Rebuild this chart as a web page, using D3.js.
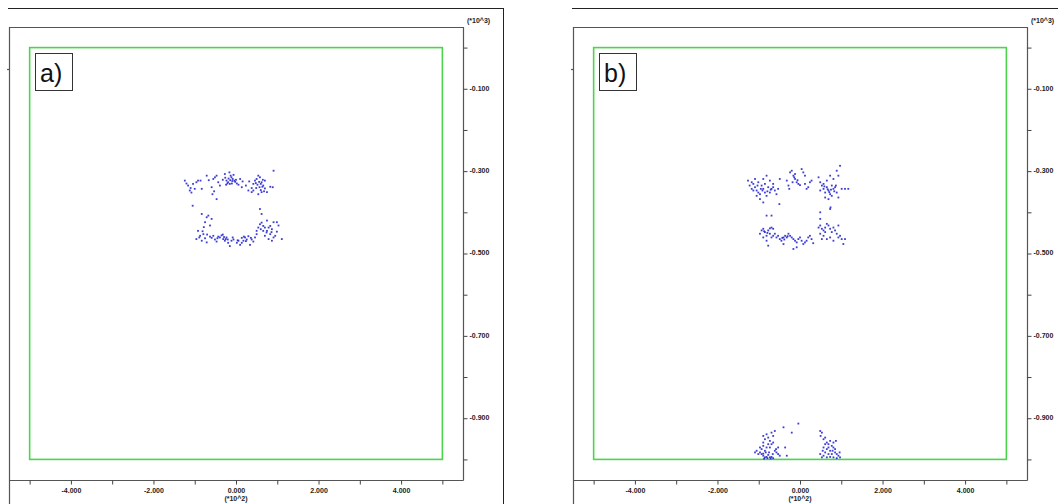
<!DOCTYPE html>
<html>
<head>
<meta charset="utf-8">
<script src="https://cdn.jsdelivr.net/npm/d3@7"></script>
<style>
  html, body { margin: 0; padding: 0; background: #fff; }
  svg { display: block; }
  text { font-family: "Liberation Sans", Arial, sans-serif; }
</style>
</head>
<body>
<svg id="chart" width="1058" height="504"></svg>
<script>
// Particle positions (x, y) for panel a: two bands
const aUpper = [
  [-124,-323],[-116,-335],[-112,-347],[-108,-352],[-104,-331],[-100,-343],[-96,-327],[-92,-323],
  [-86,-323],[-83,-343],[-71,-311],[-110,-341],[-59,-339],[-55,-319],[-51,-315],[-47,-311],
  [-57,-356],[-53,-349],[-43,-327],[-39,-335],[-47,-368],[-32,-321],[-27,-307],[-23,-323],
  [-21,-330],[-19,-327],[-16,-303],[-13,-311],[-11,-315],[-8,-319],[-6,-309],[-4,-323],
  [-2,-326],[2,-330],[6,-333],[-15,-331],[-10,-330],[-24,-333],[10,-319],[16,-325],
  [14,-339],[24,-335],[32,-325],[30,-347],[38,-341],[42,-331],[46,-323],[50,-319],
  [54,-311],[58,-315],[62,-327],[66,-335],[70,-323],[57,-339],[62,-351],[75,-351],
  [83,-338],[91,-299],[89,-339],[54,-356],[42,-347],[52,-333],[60,-346],[65,-321],
  [49,-341],[68,-349],[38,-351],[-105,-384],[-18,-318],[-14,-322],[-9,-324],[0,-321],
  [56,-326],[60,-331],[48,-329],[64,-338],[70,-342],[-26,-316],[-120,-330],[-66,-322]
];
const aLower = [
  [-83,-404],[-71,-412],[-67,-408],[-75,-424],[-63,-432],[-59,-416],[-92,-445],[-87,-457],
  [-83,-469],[-79,-453],[-75,-463],[-71,-473],[-63,-459],[-55,-457],[-51,-466],[-47,-471],
  [-39,-461],[-35,-456],[-31,-465],[-27,-469],[-23,-461],[-19,-474],[-15,-482],[-11,-469],
  [-6,-466],[2,-474],[6,-469],[10,-479],[14,-474],[18,-469],[22,-461],[26,-466],
  [30,-458],[34,-479],[38,-466],[42,-471],[46,-461],[50,-445],[54,-437],[58,-429],
  [62,-425],[66,-433],[70,-437],[75,-420],[83,-433],[87,-441],[91,-424],[99,-424],
  [103,-432],[83,-453],[79,-465],[87,-469],[91,-461],[95,-457],[99,-447],[111,-465],
  [58,-392],[62,-404],[-89,-461],[-81,-446],[-43,-459],[-32,-454],[-25,-465],[-8,-461],
  [14,-462],[19,-459],[66,-445],[75,-445],[79,-437],[70,-457],[-70,-454],[-78,-436],
  [-96,-465],[50,-453],[-59,-462],[-45,-463],[-29,-460],[-20,-466],[4,-468],[24,-470],
  [36,-462],[60,-441],[74,-449],[86,-448]
];

// Particle positions for panel b: two bands plus the pile on the floor
const bUpper = [
  [-126,-323],[-122,-335],[-117,-343],[-113,-331],[-109,-339],[-105,-347],[-101,-352],[-97,-356],
  [-109,-319],[-101,-327],[-93,-335],[-89,-343],[-85,-352],[-81,-360],[-77,-339],[-73,-323],
  [-89,-319],[-85,-331],[-97,-368],[-105,-360],[-113,-347],[-117,-327],[-89,-376],[-73,-352],
  [-69,-343],[-65,-339],[-61,-347],[-57,-356],[-53,-343],[-49,-319],[-50,-380],[-65,-331],
  [-81,-311],[-32,-323],[-28,-335],[-24,-303],[-20,-299],[-16,-311],[-12,-319],[-8,-327],
  [-4,-331],[0,-334],[4,-295],[8,-303],[12,-311],[-12,-307],[-18,-327],[-26,-343],
  [16,-343],[20,-339],[24,-327],[28,-323],[12,-331],[45,-315],[49,-327],[53,-335],
  [57,-343],[61,-352],[65,-339],[69,-347],[73,-356],[77,-360],[81,-343],[85,-339],
  [89,-352],[93,-364],[89,-299],[97,-287],[93,-311],[81,-319],[73,-311],[65,-323],
  [57,-331],[49,-347],[61,-364],[69,-368],[101,-343],[109,-343],[117,-343],[87,-335],
  [77,-335],[74,-388],[73,-392],[-81,-408],[-69,-408],[49,-400],[49,-416],
  [-95,-343],[-91,-347],[-79,-349],[-71,-345],[-103,-335],[67,-344],[71,-351],[75,-345],
  [83,-349],[59,-337],[-14,-315],[-6,-322]
];
const bLower = [
  [-97,-452],[-93,-444],[-89,-440],[-85,-448],[-81,-457],[-77,-444],[-73,-439],[-69,-437],
  [-65,-440],[-89,-461],[-81,-469],[-73,-452],[-69,-461],[-65,-457],[-61,-452],[-57,-461],
  [-53,-457],[-49,-465],[-45,-469],[-40,-461],[-36,-457],[-32,-461],[-28,-452],[-24,-457],
  [-20,-461],[-16,-465],[-12,-469],[-8,-473],[-4,-465],[0,-461],[4,-469],[8,-477],
  [12,-473],[16,-469],[20,-461],[24,-457],[28,-465],[32,-475],[-16,-489],[-8,-485],
  [-40,-477],[-77,-481],[45,-437],[49,-432],[53,-440],[57,-444],[61,-437],[65,-428],
  [69,-432],[73,-440],[77,-448],[81,-437],[85,-444],[89,-452],[93,-461],[97,-457],
  [101,-465],[105,-477],[49,-452],[57,-457],[65,-465],[73,-461],[81,-469],[53,-465],
  [61,-448],[93,-432],[109,-465],[-43,-462],[-38,-466],[-30,-458],[-87,-446],[-79,-450]
];
const bFloor = [
  [-89,-943],[-85,-951],[-81,-939],[-77,-947],[-73,-955],[-69,-935],[-65,-943],[-61,-931],
  [-77,-963],[-81,-971],[-89,-967],[-93,-975],[-85,-979],[-73,-971],[-69,-963],[-65,-959],
  [-97,-983],[-93,-987],[-89,-991],[-85,-995],[-81,-994],[-77,-989],[-73,-995],[-69,-994],
  [-89,-986],[-83,-983],[-75,-983],[-66,-987],[-61,-979],[-57,-983],[-53,-987],[-49,-991],
  [-105,-979],[-101,-987],[-109,-983],[-36,-971],[-40,-922],[-20,-935],[-4,-913],[-32,-991],
  [-53,-971],[-79,-997],[-71,-998],[-87,-998],[-65,-997],[-58,-975],[-97,-971],[-89,-959],
  [49,-931],[53,-935],[50,-943],[57,-951],[61,-947],[65,-959],[69,-963],[73,-955],
  [77,-967],[81,-971],[85,-975],[57,-971],[65,-975],[73,-979],[61,-983],[69,-987],
  [77,-987],[85,-983],[89,-987],[93,-991],[97,-995],[57,-991],[65,-995],[73,-994],
  [81,-995],[89,-997],[53,-995],[61,-963],[69,-971],[81,-959],[87,-955],[55,-979],
  [79,-979],[96,-983],[49,-987]
];

// Container outline (green box) and axis ticks
const boxX = [-500, 500];
const boxY = [0, -1000];
const xMajor = [-400, -200, 0, 200, 400];
const xMinor = [-500, -300, -100, 100, 300, 500];
const yMajor = [-100, -300, -500, -700, -900];
const yMinor = [0, -200, -400, -600, -800, -1000];
const panels = [
  { label: "a)", points: aUpper.concat(aLower) },
  { label: "b)", points: bUpper.concat(bLower, bFloor) }
];

const svg = d3.select("#chart");
const panelShift = 564;

const x = d3.scaleLinear().domain([-550, 550]).range([9, 463]);
const y = d3.scaleLinear().domain([50, -1050]).range([27, 480]);

const fmtX = v => d3.format(".3f")(v / 100).replace("−", "-");
const fmtY = v => d3.format(".3f")(v / 1000).replace("−", "-");

panels.forEach((p, i) => {
  const g = svg.append("g").attr("transform", `translate(${i * panelShift},0)`);
  const [x0, x1] = x.range();
  const [y0, y1] = y.range();

  // outer frame
  g.append("line").attr("x1", 8).attr("x2", 503.5).attr("y1", 8.5).attr("y2", 8.5)
    .attr("stroke", "#222").attr("stroke-width", 1);
  g.append("line").attr("x1", 503.5).attr("x2", 503.5).attr("y1", 8).attr("y2", 504)
    .attr("stroke", "#222").attr("stroke-width", 1);

  // plot frame
  const frame = g.append("g").attr("stroke", "#555").attr("stroke-width", 1.2).attr("fill", "none");
  frame.append("line").attr("x1", x0).attr("x2", x1 + 0.5).attr("y1", y0 + 0.5).attr("y2", y0 + 0.5);
  frame.append("line").attr("x1", x1 + 0.5).attr("x2", x1 + 0.5).attr("y1", y0).attr("y2", y1 + 0.5);
  frame.append("line").attr("x1", x0).attr("x2", x1 + 0.5).attr("y1", y1 + 0.5).attr("y2", y1 + 0.5);
  frame.append("line").attr("x1", x0 + 0.5).attr("x2", x0 + 0.5).attr("y1", y0).attr("y2", 504);
  // small tick on the left edge
  frame.append("line").attr("x1", x0 - 2).attr("x2", x0 + 0.5).attr("y1", 69.5).attr("y2", 69.5);

  // bottom axis
  const xAxis = g.append("g").attr("transform", `translate(0,${y1 + 0.5})`)
    .call(d3.axisBottom(x).tickValues(xMajor).tickSize(4).tickSizeOuter(0).tickFormat(fmtX));
  g.append("g").attr("transform", `translate(0,${y1 + 0.5})`)
    .call(d3.axisBottom(x).tickValues(xMinor).tickSize(4).tickSizeOuter(0).tickFormat(""))
    .call(s => s.select(".domain").remove());
  xAxis.select(".domain").remove();

  // right axis
  const yAxis = g.append("g").attr("transform", `translate(${x1 + 0.5},0)`)
    .call(d3.axisRight(y).tickValues(yMajor).tickSize(4).tickSizeOuter(0).tickFormat(fmtY));
  g.append("g").attr("transform", `translate(${x1 + 0.5},0)`)
    .call(d3.axisRight(y).tickValues(yMinor).tickSize(4).tickSizeOuter(0).tickFormat(""))
    .call(s => s.select(".domain").remove());
  yAxis.select(".domain").remove();

  g.selectAll(".tick line").attr("stroke", "#444");
  g.selectAll(".tick text").attr("font-size", 7).attr("fill", "#222").attr("font-weight", "bold")
    .attr("font-family", "Liberation Sans, Arial, sans-serif");
  xAxis.selectAll(".tick text").attr("dy", "0.9em").attr("y", 6);
  yAxis.selectAll(".tick text").attr("x", 6).attr("dy", "0.2em");

  // scale multipliers
  g.append("text").attr("x", x1 + 4).attr("y", 23).attr("font-size", 7).attr("fill", "#222")
    .attr("font-weight", "bold").text("(*10^3)");
  g.append("text").attr("x", x(0)).attr("y", 501).attr("font-size", 7).attr("fill", "#222")
    .attr("font-weight", "bold").attr("text-anchor", "middle").text("(*10^2)");

  // container outline
  g.append("rect")
    .attr("x", x(boxX[0])).attr("y", y(boxY[0]))
    .attr("width", x(boxX[1]) - x(boxX[0])).attr("height", y(boxY[1]) - y(boxY[0]))
    .attr("fill", "none").attr("stroke", "#4cd44c").attr("stroke-width", 1.6);

  // particles
  g.append("g").selectAll("rect").data(p.points).join("rect")
    .attr("x", d => x(d[0]) - 0.9).attr("y", d => y(d[1]) - 0.9)
    .attr("width", 1.8).attr("height", 1.8)
    .attr("fill", "#1c1ccc").attr("opacity", 0.85);

  // panel label
  g.append("rect").attr("x", 35.5).attr("y", 53.5).attr("width", 37).attr("height", 37)
    .attr("fill", "#fff").attr("stroke", "#333").attr("stroke-width", 1);
  g.append("text").attr("x", 40).attr("y", 82).attr("font-size", 25).attr("fill", "#111")
    .attr("font-family", "Liberation Sans, Arial, sans-serif").text(p.label);
});
</script>
</body>
</html>
